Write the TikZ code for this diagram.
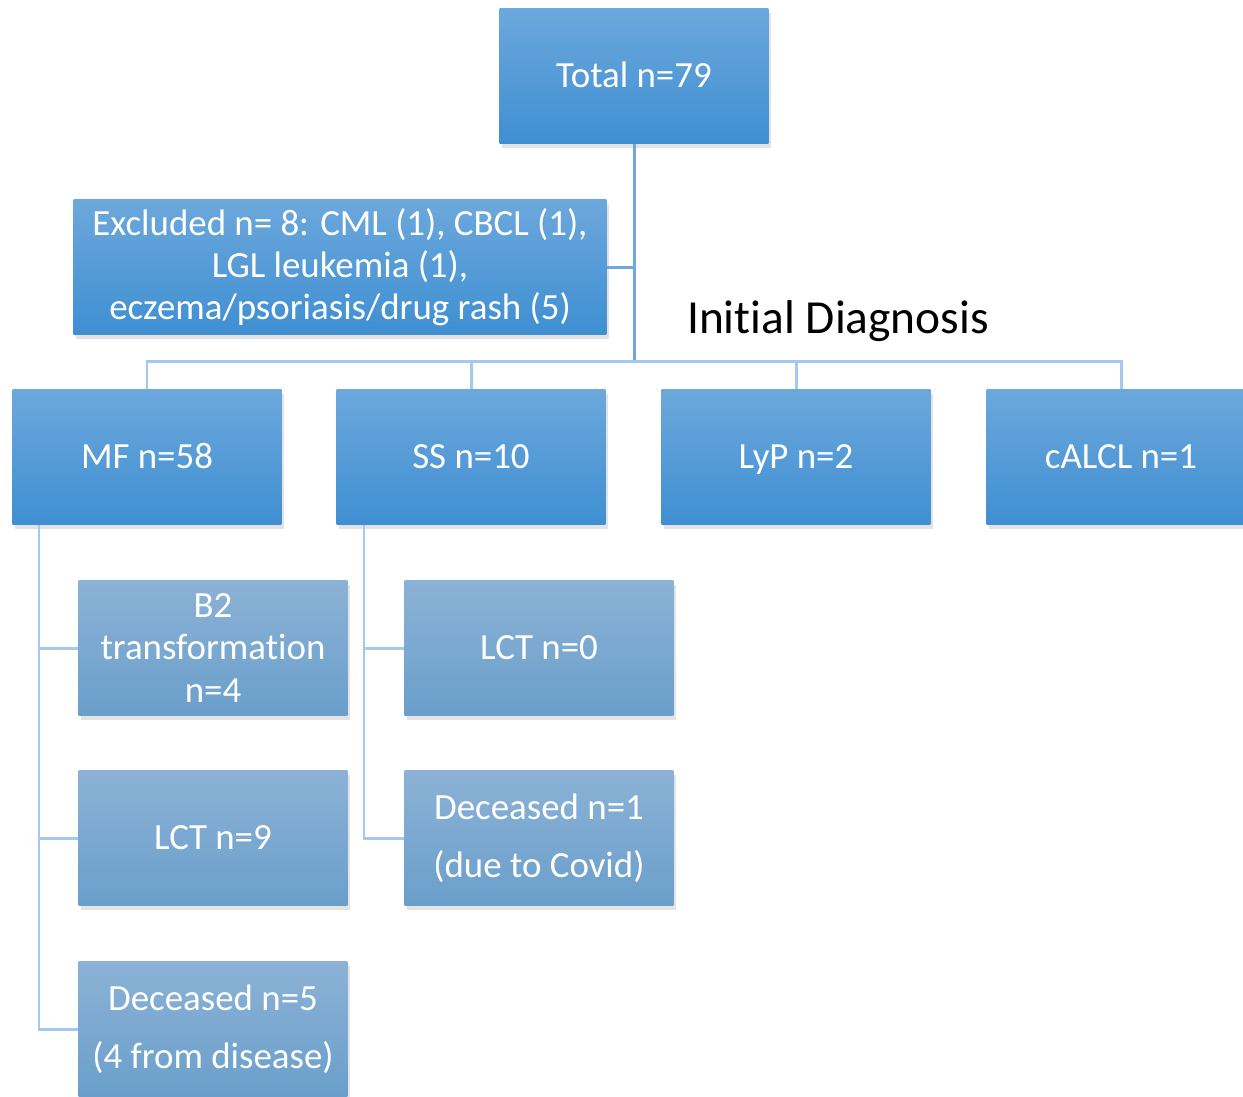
\documentclass[tikz,border=0pt]{standalone}
\usepackage{fontspec}
\setmainfont{Carlito}[Ligatures=NoCommon]
\usetikzlibrary{shadows}
\definecolor{BoxTop}{HTML}{6CA8DC}
\definecolor{BoxBottom}{HTML}{3F8FD2}
\definecolor{SubTop}{HTML}{8CB2D6}
\definecolor{SubBottom}{HTML}{6A9FCB}
\definecolor{TrunkBlue}{HTML}{6FA8DC}
\definecolor{BranchBlue}{HTML}{A4C8EE}

\begin{document}
\begin{tikzpicture}[x=0.02cm, y=-0.02cm,
    mainbox/.style={top color=BoxTop, bottom color=BoxBottom, text=white, minimum width=5.38cm, minimum height=2.7cm,
      align=center, font=\fontsize{21}{24}\selectfont, drop shadow={opacity=0.22, shadow xshift=1.5pt, shadow yshift=-2.5pt}},
    subbox/.style={mainbox, top color=SubTop, bottom color=SubBottom},
    oneline/.style={text height=17.6pt, text depth=4.2pt},
    trunk/.style={TrunkBlue, line width=1.7pt},
    branch/.style={BranchBlue, line width=1.7pt}]
            \useasboundingbox (0,0) rectangle (1243,1096);
            \clip (0,0) rectangle (1243,1096);
            % top of the tree
            \node[mainbox, oneline] (total) at (634,76) {Total n=79};
            \node[mainbox, minimum width=10.66cm] (excl) at (340,267) {Excluded n= 8: CML (1), CBCL (1),\\LGL leukemia (1),\\eczema/psoriasis/drug rash (5)};
            \node[font=\fontsize{27}{32}\selectfont] (initdx) at (838,321) {Initial Diagnosis};
            \coordinate (hub) at (634,361);
            % initial diagnosis row
            \node[mainbox, oneline] (mf) at (147,457) {MF n=58};
            \node[mainbox, oneline] (ss) at (471,457) {SS n=10};
            \node[mainbox, oneline] (lyp) at (796,457) {LyP n=2};
            \node[mainbox, oneline] (calcl) at (1121,457) {cALCL n=1};
            % follow-up boxes
            \node[subbox] (b2) at (213,648) {B2\\transformation\\n=4};
            \node[subbox, oneline] (lctmf) at (213,838) {LCT n=9};
            \node[subbox, font=\fontsize{21}{33}\selectfont] (decmf) at (213,1029) {Deceased n=5\\(4 from disease)};
            \node[subbox, oneline] (lctss) at (539,648) {LCT n=0};
            \node[subbox, font=\fontsize{21}{33}\selectfont] (decss) at (539,838) {Deceased n=1\\(due to Covid)};
            \coordinate (mfout) at (39,525);
            \coordinate (ssout) at (364,525);

            \draw[trunk] (total) -- (hub);
            \draw[trunk] (excl.east) -- (excl.east -| hub);
            \draw[branch] (hub) -| (mf.north);
            \draw[branch] (hub) -| (ss.north);
            \draw[branch] (hub) -| (lyp.north);
            \draw[branch] (hub) -| (calcl.north);
            \draw[branch] (mfout) |- (b2);
            \draw[branch] (mfout) |- (lctmf);
            \draw[branch] (mfout) |- (decmf);
            \draw[branch] (ssout) |- (lctss);
            \draw[branch] (ssout) |- (decss);
        \end{tikzpicture}
\end{document}
